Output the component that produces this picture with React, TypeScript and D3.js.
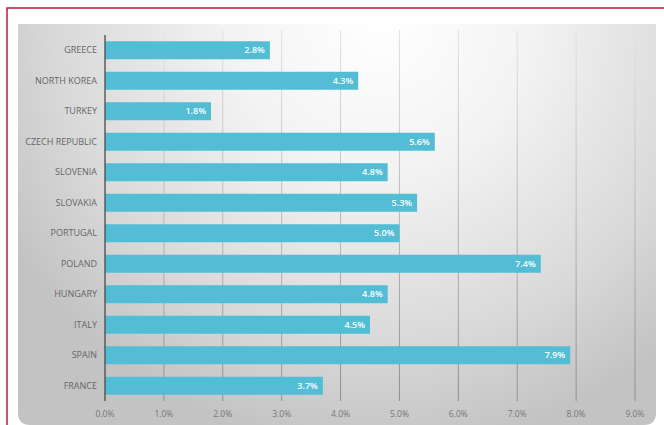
import React from "react";
import * as d3 from "d3";

const categories = [
  "GREECE",
  "NORTH KOREA",
  "TURKEY",
  "CZECH REPUBLIC",
  "SLOVENIA",
  "SLOVAKIA",
  "PORTUGAL",
  "POLAND",
  "HUNGARY",
  "ITALY",
  "SPAIN",
  "FRANCE",
];
const values = [2.8, 4.3, 1.8, 5.6, 4.8, 5.3, 5.0, 7.4, 4.8, 4.5, 7.9, 3.7];
const ticks = [0, 1, 2, 3, 4, 5, 6, 7, 8, 9];

const W = 664;
const H = 425;

export default function App() {
  const x = d3.scaleLinear().domain([0, 9]).range([105, 635]);
  const y = d3
    .scaleBand<string>()
    .domain(categories)
    .range([35, 401])
    .paddingInner(0.41)
    .paddingOuter(0.205);

  const font = "'Open Sans', 'Noto Sans', sans-serif";
  const panelPath = `M18,24 H656 V413 Q656,425 644,425 H30 Q18,425 18,413 Z`;

  return (
    <svg
      width={W}
      height={H}
      style={{ position: "absolute", left: 0, top: 0 }}
      xmlns="http://www.w3.org/2000/svg"
    >
      <defs>
        <radialGradient
          id="bg"
          gradientUnits="userSpaceOnUse"
          cx={380}
          cy={20}
          r={430}
        >
          <stop offset="0" stopColor="#ffffff" />
          <stop offset="0.35" stopColor="#f3f3f3" />
          <stop offset="0.75" stopColor="#d9d9d9" />
          <stop offset="1" stopColor="#c3c3c3" />
        </radialGradient>
        <linearGradient id="grid" gradientUnits="userSpaceOnUse" x1={0} y1={30} x2={0} y2={400}>
          <stop offset="0" stopColor="#e2e2e2" />
          <stop offset="1" stopColor="#8f8f8f" />
        </linearGradient>
      </defs>
      <rect x={0} y={0} width={W} height={H} fill="#ffffff" />
      <path d={`M7,${H} V8 H${W}`} fill="none" stroke="#c0183f" strokeWidth={1.5} />
      <path d={panelPath} fill="url(#bg)" />

      {ticks.slice(1).map((t) => (
        <line
          key={t}
          x1={x(t)}
          x2={x(t)}
          y1={30}
          y2={401}
          stroke="url(#grid)"
          strokeWidth={1}
        />
      ))}

      {categories.map((c, i) => (
        <g key={c}>
          <rect
            x={x(0)}
            y={y(c)}
            width={x(values[i]) - x(0)}
            height={y.bandwidth()}
            fill="#52bdd5"
          />
          <text
            x={x(values[i]) - 5}
            y={(y(c) as number) + y.bandwidth() / 2}
            dy="0.35em"
            textAnchor="end"
            fill="#ffffff"
            fontFamily={font}
            fontWeight={600}
            fontSize={9}
          >
            {values[i].toFixed(1)}%
          </text>
          <text
            x={97}
            y={(y(c) as number) + y.bandwidth() / 2}
            dy="0.35em"
            textAnchor="end"
            fill="#666666"
            fontFamily={font}
            fontSize={9}
          >
            {c}
          </text>
        </g>
      ))}

      <line x1={x(0)} x2={x(0)} y1={35} y2={401} stroke="#4a4a4a" strokeWidth={1.3} />

      {ticks.map((t) => (
        <text
          key={t}
          x={x(t)}
          y={414}
          dy="0.35em"
          textAnchor="middle"
          fill="#777777"
          fontFamily={font}
          fontSize={8.5}
        >
          {t.toFixed(1)}%
        </text>
      ))}
    </svg>
  );
}
